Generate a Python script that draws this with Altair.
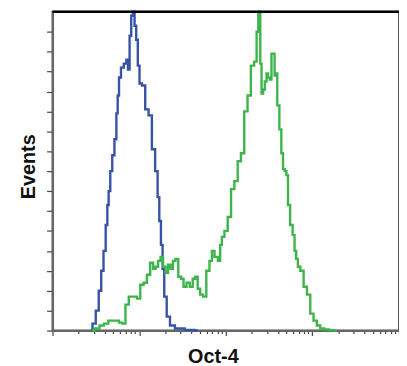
import altair as alt
import pandas as pd

# Log10 intensity positions (decades) and event counts
blue_pos = [0.442, 0.48, 0.518, 0.549, 0.575, 0.602, 0.625, 0.64, 0.655, 0.678,
            0.701, 0.728, 0.746, 0.758, 0.777, 0.803, 0.842, 0.861, 0.88, 0.899,
            0.918, 0.937, 0.957, 0.975, 0.994, 1.014, 1.051, 1.089, 1.128, 1.166,
            1.203, 1.223, 1.242, 1.261, 1.28, 1.299, 1.337, 1.375, 1.451, 1.6, 1.68]
blue_cnt = [0, 3.5, 10, 20, 30, 40, 53, 63, 70, 80,
            88, 96, 109, 118, 127, 132, 134, 136, 131, 148,
            158, 160, 153, 146, 133, 124, 123, 111, 108, 91,
            80, 67, 55, 43, 31, 17, 7, 2.5, 1, 0.3, 0]

green_pos = [0.457, 0.514, 0.571, 0.614, 0.674, 0.746, 0.789, 0.823, 0.861, 0.899,
             0.957, 0.994, 1.032, 1.071, 1.109, 1.146, 1.177, 1.203, 1.234, 1.261,
             1.291, 1.318, 1.349, 1.375, 1.406, 1.432, 1.471, 1.497, 1.528, 1.566,
             1.603, 1.634, 1.661, 1.691, 1.718, 1.757, 1.794, 1.829, 1.851, 1.889,
             1.928, 1.943, 1.966, 2.003, 2.042, 2.08, 2.118, 2.157, 2.194, 2.232,
             2.271, 2.309, 2.346, 2.366, 2.385, 2.394, 2.403, 2.423, 2.44, 2.461,
             2.48, 2.497, 2.518, 2.537, 2.556, 2.571, 2.583, 2.606, 2.632, 2.651,
             2.671, 2.691, 2.709, 2.728, 2.758, 2.785, 2.803, 2.823, 2.842, 2.88,
             2.918, 2.957, 2.994, 3.032, 3.071, 3.109, 3.166, 3.223, 3.28]
green_cnt = [0, 1, 2.5, 3.5, 5, 5, 4, 3.5, 13, 17,
             17, 16, 23, 24, 28, 34, 31, 32, 35, 37,
             32, 29, 33, 31, 35, 36, 27, 26, 22, 24,
             22, 26, 27, 21, 18, 17, 30, 35, 40, 37,
             35, 43, 47, 50, 57, 71, 75, 85, 89, 110,
             118, 133, 135, 150, 159, 160, 134, 119, 121, 125,
             129, 127, 126, 139, 139, 128, 129, 113, 101, 89,
             81, 80, 78, 63, 53, 48, 40, 36, 32, 30,
             22, 18, 8.5, 5, 2.5, 1, 0.5, 0.2, 0]

series_names = ["Isotype", "Oct-4"]
series_colors = ["#3753a6", "#3db54b"]

x_ticks = [k * 10 ** d for d in range(4) for k in range(1, 10)] + [10000]
y_ticks = list(range(0, 160, 10))

df = pd.concat([
    pd.DataFrame({"pos": blue_pos, "count": blue_cnt, "series": series_names[0]}),
    pd.DataFrame({"pos": green_pos, "count": green_cnt, "series": series_names[1]}),
])

W, H = 350, 322

lines = alt.Chart(df).transform_calculate(
    intensity="pow(10, datum.pos)"
).mark_line(interpolate="step", strokeWidth=2.4).encode(
    x=alt.X("intensity:Q",
            scale=alt.Scale(type="log", domain=[1, 10000], nice=False),
            axis=alt.Axis(values=x_ticks, labels=False, grid=False,
                          tickColor="#444", domainColor="#666", domainWidth=2,
                          tickSize={"condition": {"test": "abs(log(datum.value)/LN10 - round(log(datum.value)/LN10)) < 0.001", "value": 5}, "value": 3},
                          tickWidth=1.2,
                          title="Oct-4", titleFont="Liberation Sans", titleFontSize=20,
                          titleFontWeight="bold", titleColor="#111",
                          titleX=162, titleY=32, titleAlign="center",
                          titleBaseline="alphabetic", titleAngle=0)),
    y=alt.Y("count:Q",
            scale=alt.Scale(domain=[0, 160], nice=False, zero=True),
            axis=alt.Axis(values=y_ticks, labels=False, grid=False,
                          tickColor="#444", tickSize=6, tickWidth=1.2,
                          domainColor="#666", domainWidth=2,
                          title="Events", titleFont="Liberation Sans", titleFontSize=20,
                          titleFontWeight="bold", titleColor="#111",
                          titleX=-18, titleY=156, titleAlign="center",
                          titleBaseline="alphabetic", titleAngle=270)),
    color=alt.Color("series:N", scale=alt.Scale(domain=series_names, range=series_colors), legend=None),
    detail="series:N",
)

top_border = alt.Chart(pd.DataFrame({"v": [0]})).mark_rule(color="#000", strokeWidth=2.5).encode(
    x=alt.value(0), x2=alt.value(W), y=alt.value(0)
)

chart = alt.layer(lines, top_border).properties(
    width=W, height=H,
    autosize=alt.AutoSizeParams(type="none"),
    padding={"left": 45, "top": 2, "right": 0, "bottom": 36},
).configure_view(stroke="#555", strokeWidth=2)

chart.save("out.html", embed_options={"renderer": "svg", "actions": False})
